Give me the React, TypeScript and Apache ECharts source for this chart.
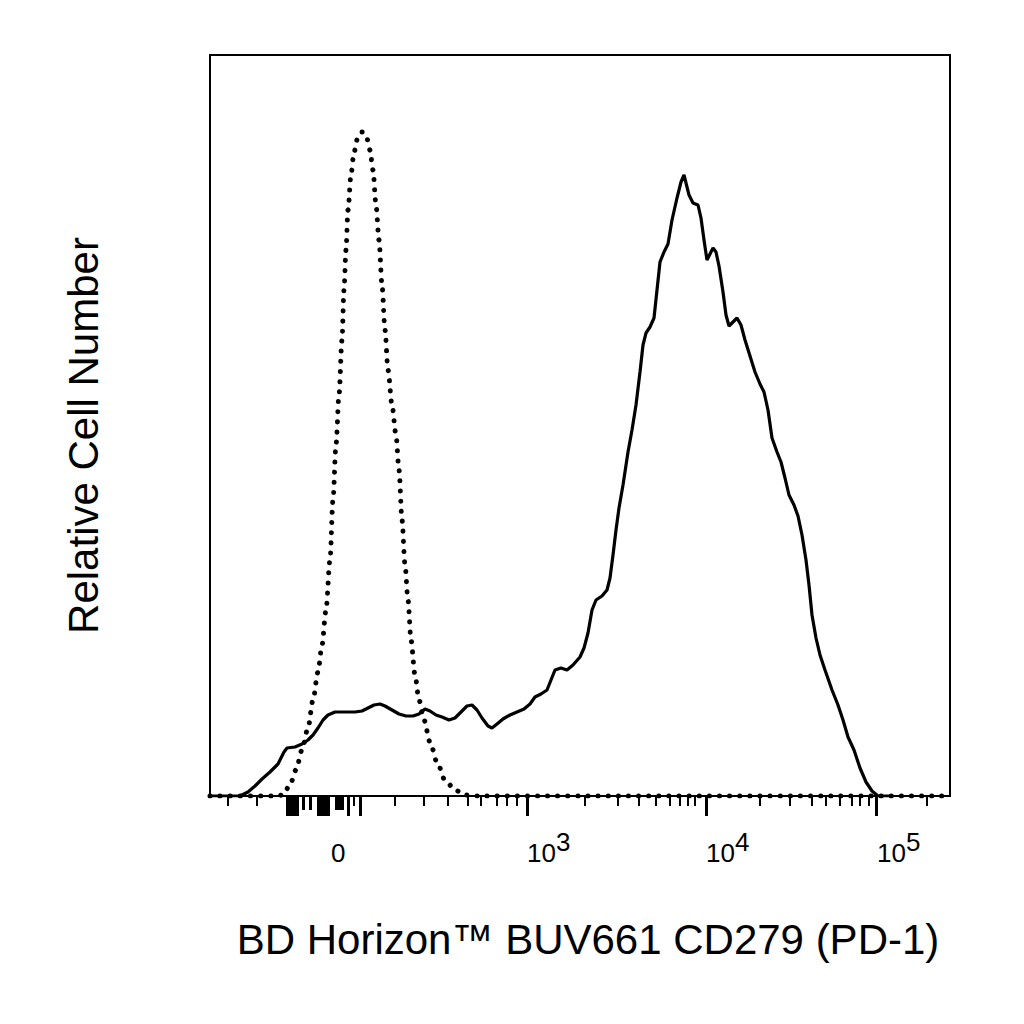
import React, { useEffect, useRef } from 'react';
import * as echarts from 'echarts';

// x = display channel on the biexponential scale (0 = left edge of the plot, 740 = right edge)
// y = relative cell count (0 = baseline, 741 = top of the plot)
const stainedChannels = [
    0, 30, 38, 45, 52, 60, 68, 74, 77, 85, 92, 98, 103, 108, 113, 118, 125, 135, 145, 152,
    158, 164, 170, 175, 182, 189, 196, 203, 209, 215, 220, 226, 232, 239, 245, 251, 257, 262,
    267, 272, 278, 282, 287, 293, 300, 307, 314, 320, 325, 331, 337, 341, 345, 351, 357, 363,
    370, 374, 378, 382, 386, 392, 397, 400, 403, 406, 409, 413, 418, 422, 426, 430, 433, 436,
    440, 444, 447, 450, 454, 458, 462, 467, 471, 474, 476, 479, 483, 488, 491, 494, 497, 500,
    503, 506, 509, 513, 516, 519, 523, 527, 531, 535, 540, 545, 550, 554, 558, 562, 567, 571,
    575, 579, 584, 588, 592, 596, 599, 602, 606, 610, 615, 622, 628, 633, 638, 644, 650, 656,
    662, 668, 680,
];
const stainedCounts = [
    0, 0, 4, 10, 17, 24, 32, 44, 48, 49, 52, 56, 61, 68, 76, 81, 84, 84, 84, 85,
    88, 91, 92, 90, 86, 82, 80, 80, 82, 87, 85, 81, 79, 76, 78, 84, 90, 91,
    86, 78, 70, 68, 72, 77, 81, 84, 87, 92, 99, 102, 106, 116, 126, 128, 126, 131,
    139, 148, 163, 186, 196, 200, 206, 218, 241, 266, 288, 311, 344, 366, 391, 424, 451, 463,
    469, 478, 506, 534, 544, 552, 576, 598, 614, 621, 613, 601, 593, 591, 578, 556, 536, 542,
    548, 544, 530, 504, 481, 470, 474, 478, 471, 456, 440, 424, 412, 404, 386, 358, 344, 334,
    318, 301, 291, 280, 261, 236, 211, 181, 158, 141, 126, 106, 91, 76, 59, 46, 28, 14,
    5, 0, 0,
];

const controlChannels = [
    0, 65, 73, 80, 86, 92, 98, 103, 108, 112, 116, 120, 123, 126, 129, 132, 134, 136, 138, 141,
    144, 148, 152, 156, 160, 163, 166, 169, 172, 175, 178, 182, 186, 189, 192, 195, 198, 201,
    205, 209, 214, 220, 227, 235, 245, 255, 270, 740,
];
const controlCounts = [
    0, 0, 1, 11, 26, 46, 68, 96, 124, 151, 186, 236, 296, 351, 401, 456, 506, 546, 586, 621,
    644, 659, 664, 661, 646, 626, 591, 556, 511, 466, 426, 391, 361, 326, 276, 231, 196, 156,
    121, 96, 76, 54, 34, 16, 6, 1, 0, 0,
];

const decadeLabels = ['0', '10^3', '10^4', '10^5'];
const decadeChannels = [121, 317, 496, 667];
const majorTicks = [317, 496, 666.7, 77, 79.5, 82, 84.5, 87, 108.5, 111, 113.5, 116, 118.5, 138, 150];
const mediumTicks = [93.5, 100, 126, 129, 132];
const minorTicks = [
    17.7, 46.7, 144, 185, 214, 238, 258, 271, 287, 297, 307,
    375, 407.7, 428.3, 446, 459.3, 470, 477.3, 485,
    550, 579.3, 601.7, 616, 630, 641.7, 650, 658.3, 716.7,
];

const FONT = "'Liberation Sans', Arial, Helvetica, sans-serif";

const tickAxis = (values: number[], length: number, width: number) => ({
    type: 'value' as const,
    min: 0,
    max: 740,
    position: 'bottom' as const,
    axisLine: { show: false, onZero: false },
    axisTick: { show: true, customValues: values, length, lineStyle: { color: '#000', width } },
    axisLabel: { show: false },
    splitLine: { show: false },
});

const App: React.FC = () => {
    const chartRef = useRef<HTMLDivElement>(null);

    useEffect(() => {
        document.body.style.margin = '0';
        const chart = echarts.init(chartRef.current!, null, { renderer: 'svg' });

        const option: any = {
            animation: false,
            backgroundColor: '#fff',
            grid: {
                left: 210,
                right: 74,
                top: 55,
                bottom: 228,
                show: true,
                borderColor: '#000',
                borderWidth: 2,
            },
            xAxis: [
                {
                    type: 'value',
                    min: 0,
                    max: 740,
                    position: 'bottom',
                    axisLine: { show: true, onZero: false, lineStyle: { color: '#000', width: 2 } },
                    axisTick: { show: true, customValues: majorTicks, length: 20, lineStyle: { color: '#000', width: 3 } },
                    axisLabel: {
                        customValues: decadeChannels,
                        margin: 44,
                        align: 'left',
                        fontSize: 26,
                        fontFamily: FONT,
                        color: '#000',
                        formatter: (value: number) => {
                            let idx = 0;
                            decadeChannels.forEach((c, i) => {
                                if (Math.abs(c - value) < Math.abs(decadeChannels[idx] - value)) idx = i;
                            });
                            const [base, exp] = decadeLabels[idx].split('^');
                            return `{b|${base}}{sup|${exp ?? ' '}}`;
                        },
                        rich: {
                            b: { fontSize: 26, fontFamily: FONT, color: '#000', lineHeight: 26, verticalAlign: 'bottom' },
                            sup: { fontSize: 26, fontFamily: FONT, color: '#000', lineHeight: 26, verticalAlign: 'bottom', padding: [0, 0, 11, 0] },
                        },
                    },
                    splitLine: { show: false },
                    name: 'BD Horizon™ BUV661 CD279 (PD-1)',
                    nameLocation: 'middle',
                    nameGap: 122,
                    nameTextStyle: { fontSize: 42, fontFamily: FONT, color: '#000', padding: [0, 0, 0, 16] },
                },
                tickAxis(mediumTicks, 14, 3),
                tickAxis(minorTicks, 10, 2),
            ],
            yAxis: {
                type: 'value',
                min: 0,
                max: 741,
                axisLine: { show: true, lineStyle: { color: '#000', width: 2 } },
                axisTick: { show: false },
                axisLabel: { show: false },
                splitLine: { show: false },
                name: 'Relative Cell Number',
                nameLocation: 'middle',
                nameRotate: 90,
                nameGap: 106,
                nameTextStyle: { fontSize: 42, fontFamily: FONT, color: '#000', padding: [0, 20, 0, 0] },
            },
            series: [
                {
                    type: 'line',
                    name: 'Isotype control',
                    data: controlChannels.map((c, i) => [c, controlCounts[i]]),
                    symbol: 'none',
                    smooth: 0.3,
                    smoothMonotone: 'x',
                    lineStyle: { color: '#000', width: 5, type: [0.1, 10], cap: 'round' },
                    z: 2,
                },
                {
                    type: 'line',
                    name: 'CD279 (PD-1)',
                    data: stainedChannels.map((c, i) => [c, stainedCounts[i]]),
                    symbol: 'none',
                    lineStyle: { color: '#000', width: 3.2 },
                    z: 3,
                },
            ],
        };

        chart.setOption(option);

        return () => {
            chart.dispose();
        };
    }, []);

    return <div ref={chartRef} style={{ width: 1024, height: 1024 }} />;
};

export default App;
